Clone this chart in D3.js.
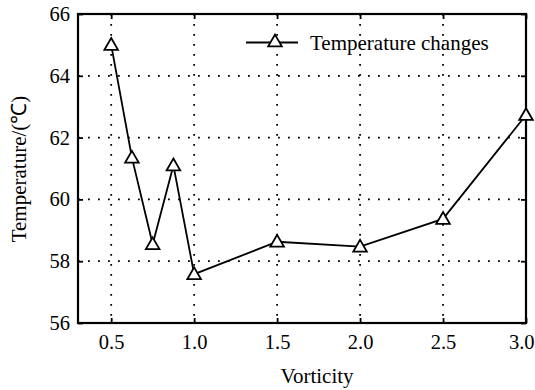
<!DOCTYPE html>
<html><head><meta charset="utf-8">
<script src="https://cdn.jsdelivr.net/npm/d3@7"></script>
<style>body{margin:0;background:#fff}svg{display:block}text{font-family:"Liberation Serif","Times New Roman",serif;fill:#000}</style>
</head><body><svg id="c" width="535" height="390"></svg>
<script>
const vorticity = [0.5, 0.625, 0.75, 0.875, 1.0, 1.5, 2.0, 2.5, 3.0];
const temperature = [65.0, 61.35, 58.55, 61.1, 57.58, 58.63, 58.47, 59.37, 62.73];
const xTicks = [0.5, 1.0, 1.5, 2.0, 2.5, 3.0];
const yTicks = [56, 58, 60, 62, 64, 66];
const seriesName = "Temperature changes";
const xLabel = "Vorticity";
const yLabel = "Temperature/(℃)";

const svg = d3.select("#c");
const L = 78, R = 526, T = 14, B = 323;
const x = d3.scaleLinear().domain([0.3, 3.0]).range([L, R]);
const y = d3.scaleLinear().domain([56, 66]).range([B, T]);
const FF = '"Liberation Serif","Times New Roman",serif';

// grid
const g = svg.append("g");
g.selectAll(".vg").data(xTicks.filter(d => d < 3)).enter().append("line")
  .attr("x1", d => x(d)).attr("x2", d => x(d)).attr("y1", T).attr("y2", B)
  .attr("stroke", "#000").attr("stroke-width", 1.8).attr("stroke-dasharray", "1.8,8.2");
g.selectAll(".hg").data(yTicks.filter(d => d > 56 && d < 66)).enter().append("line")
  .attr("x1", L).attr("x2", R).attr("y1", d => y(d)).attr("y2", d => y(d))
  .attr("stroke", "#000").attr("stroke-width", 1.8).attr("stroke-dasharray", "1.8,8.2");

// axes
const fs = 20.5;
const xAxis = d3.axisBottom(x).tickValues(xTicks).tickFormat(d3.format(".1f")).tickSizeInner(-5).tickSizeOuter(0);
const yAxis = d3.axisLeft(y).tickValues(yTicks).tickFormat(d3.format("d")).tickSizeInner(-5).tickSizeOuter(0).tickPadding(8);
const xa = svg.append("g").attr("transform", `translate(0,${B})`).call(xAxis);
const ya = svg.append("g").attr("transform", `translate(${L},0)`).call(yAxis);
const xt = svg.append("g").attr("transform", `translate(0,${T})`).call(d3.axisTop(x).tickValues(xTicks).tickFormat("").tickSizeInner(-5).tickSizeOuter(0));
const yr = svg.append("g").attr("transform", `translate(${R},0)`).call(d3.axisRight(y).tickValues(yTicks).tickFormat("").tickSizeInner(-5).tickSizeOuter(0));
[xa, ya, xt, yr].forEach(a => {
  a.attr("font-family", FF).attr("font-size", fs);
  a.select(".domain").remove();
  a.selectAll("line").attr("stroke", "#000").attr("stroke-width", 1.8);
  a.selectAll("text").attr("fill", "#000");
});
xa.selectAll("text").attr("dy", null).attr("y", 26)
  .attr("text-anchor", d => d === 3 ? "end" : "middle")
  .attr("dx", d => d === 3 ? 8 : 0);

svg.append("rect").attr("x", L).attr("y", T).attr("width", R - L).attr("height", B - T)
  .attr("fill", "none").attr("stroke", "#000").attr("stroke-width", 2.2);

// line
const data = vorticity.map((v, i) => [v, temperature[i]]);
svg.append("path").datum(data)
  .attr("d", d3.line().x(d => x(d[0])).y(d => y(d[1])))
  .attr("fill", "none").attr("stroke", "#000").attr("stroke-width", 1.8);
const tri = d3.symbol().type(d3.symbolTriangle).size(80);
svg.selectAll(".m").data(data).enter().append("path")
  .attr("d", tri).attr("transform", d => `translate(${x(d[0])},${y(d[1])+1})`)
  .attr("fill", "#fff").attr("stroke", "#000").attr("stroke-width", 1.8);

// legend
const ly = 42.5;
svg.append("line").attr("x1", 246).attr("x2", 298).attr("y1", ly).attr("y2", ly)
  .attr("stroke", "#000").attr("stroke-width", 1.8);
svg.append("path").attr("d", tri).attr("transform", `translate(275,${ly})`)
  .attr("fill", "#fff").attr("stroke", "#000").attr("stroke-width", 1.8);
svg.append("text").attr("x", 310).attr("y", 49.5).attr("font-family", FF).attr("font-size", 21).text(seriesName);

// labels
svg.append("text").attr("x", 317).attr("y", 383).attr("text-anchor", "middle").attr("font-family", FF).attr("font-size", 21).text(xLabel);
svg.append("text").attr("transform", `translate(26,169) rotate(-90)`).attr("text-anchor", "middle").attr("font-family", FF).attr("font-size", 21).text(yLabel);
</script></body></html>
